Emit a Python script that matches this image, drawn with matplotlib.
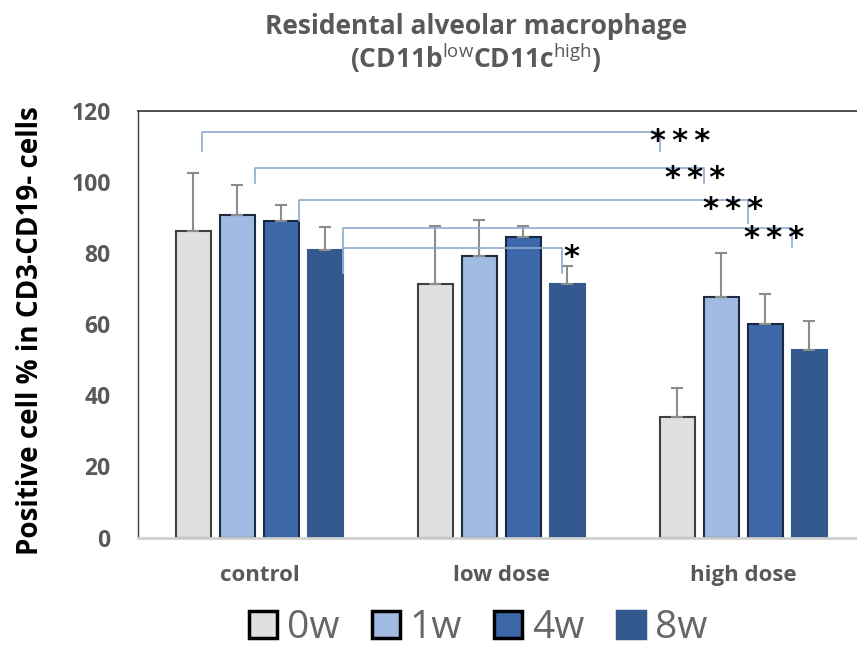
import matplotlib
matplotlib.use("Agg")
import numpy as np
import matplotlib.pyplot as plt
from matplotlib.patches import Patch

plt.rcParams['font.family'] = ['Open Sans', 'DejaVu Sans']
plt.rcParams['mathtext.fontset'] = 'custom'
plt.rcParams['mathtext.rm'] = 'Open Sans'

# datos
grupos = ["control", "low dose", "high dose"]
semanas = ["0w", "1w", "4w", "8w"]
media_0w = [86.2, 71.4, 33.9]
media_1w = [90.7, 79.2, 67.8]
media_4w = [89.0, 84.7, 60.2]
media_8w = [80.9, 71.2, 52.8]
err_0w = [16.4, 16.2, 8.3]
err_1w = [8.5, 10.1, 12.2]
err_4w = [4.5, 3.0, 8.3]
err_8w = [6.5, 5.2, 8.2]

# comparaciones significativas (serie, grupo final)
sig_serie = [0, 1, 2, 3, 3]
sig_hasta = [2, 2, 2, 2, 1]
sig_nivel = [114.2, 103.9, 95.0, 87.0, 81.5]
sig_baja_izq = [108.8, 99.7, 89.0, 74.4, 74.4]
sig_baja_der = [108.8, 99.7, 88.4, 81.8, 74.4]
sig_texto = ["***", "***", "***", "***", "*"]
sig_texto_x = [1.738, 1.80, 1.959, 2.128, 1.291]

colores = ["#E0E0E0", "#A0BAE2", "#3C68A9", "#34598E"]
bordes = ["#404040", "#1E2B40", "#1A2740", "#34598E"]
gris = "#595959"

medias = [media_0w, media_1w, media_4w, media_8w]
errores = [err_0w, err_1w, err_4w, err_8w]

fig = plt.figure(figsize=(8.57, 6.51), dpi=100)
ax = fig.add_axes([0.1616, 0.1743, 0.8384, 0.6551])

x = np.arange(len(grupos))
ancho = 0.145
paso = 0.182

for i in range(len(semanas)):
    pos = x + (i - 1.5) * paso
    ax.bar(pos, medias[i], ancho, color=colores[i], edgecolor=bordes[i],
           linewidth=1.5, zorder=2)
    ax.errorbar(pos, medias[i], yerr=[np.zeros(len(grupos)), errores[i]],
                fmt='none', ecolor='#8C8C8C', elinewidth=1.5, capsize=4.5,
                capthick=1.5, zorder=3)

# corchetes de significancia
lado_izq = [0.25, 0.5, 0.5, 0.5, 0.5]
lado_der = [0.5, 0.5, 0.5, 0.5, 0.15]
fs_est = 22
for k in range(len(sig_serie)):
    off = (sig_serie[k] - 1.5) * paso
    xl = 0 + off + lado_izq[k] * ancho
    xr = sig_hasta[k] + off - lado_der[k] * ancho
    ax.plot([xl, xl, xr, xr],
            [sig_baja_izq[k], sig_nivel[k], sig_nivel[k], sig_baja_der[k]],
            color='#8FAACC', lw=1.2, zorder=4)
    txt = "\u2009".join(sig_texto[k])
    ax.annotate(txt, (sig_texto_x[k], sig_nivel[k]), xytext=(0, -0.6 * fs_est),
                textcoords='offset points', ha='center', va='baseline',
                fontsize=fs_est, family='DejaVu Sans', fontweight='bold',
                color='black', zorder=5)

ax.set_ylim(0, 120)
ax.set_xlim(-0.5, 2.47)
ax.set_yticks(range(0, 121, 20))
ax.set_xticks(x, grupos)
ax.tick_params(axis='y', length=0, pad=20, labelsize=16.5, labelcolor=gris)
ax.tick_params(axis='x', length=0, pad=20, labelsize=16, labelcolor=gris)
for t in ax.get_yticklabels() + ax.get_xticklabels():
    t.set_fontweight('bold')

ax.spines['left'].set_color('#404040')
ax.spines['left'].set_linewidth(1)
ax.spines['top'].set_color('#404040')
ax.spines['top'].set_linewidth(1.3)
ax.spines['bottom'].set_color('#D0D0D0')
ax.spines['bottom'].set_linewidth(2)
ax.spines['right'].set_visible(False)

ax.set_ylabel("Positive cell % in CD3-CD19- cells", fontsize=20,
              fontweight='bold', color='black')
ax.yaxis.set_label_coords(-0.13, 0.484)

fig.text(0.555, 0.960, "Residental alveolar macrophage", ha='center',
         va='center', fontsize=19, fontweight='bold', color=gris)
fig.text(0.555, 0.910, r"(CD11b$^{\mathrm{low}}$CD11c$^{\mathrm{high}}$)",
         ha='center', va='center', fontsize=19, fontweight='bold', color=gris)

# leyenda
manijas = []
for i in range(len(semanas)):
    borde = 'black' if i < 3 else colores[i]
    manijas.append(Patch(facecolor=colores[i], edgecolor=borde, linewidth=2.5))
fig.legend(manijas, semanas, loc='center', bbox_to_anchor=(0.558, 0.035),
           ncol=4, frameon=False, fontsize=28, labelcolor='#666666',
           handlelength=0.72, handleheight=0.72, handletextpad=0.26,
           columnspacing=0.82, borderpad=0)

fig.savefig("out.png", dpi=100)
